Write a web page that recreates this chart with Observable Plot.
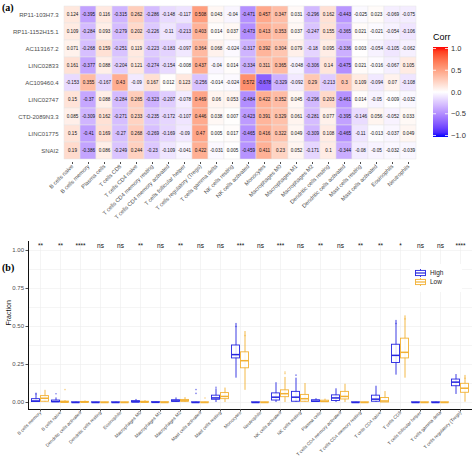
<!DOCTYPE html>
<html><head><meta charset="utf-8">
<script src="https://cdn.jsdelivr.net/npm/d3@7"></script>
<script src="https://cdn.jsdelivr.net/npm/@observablehq/plot@0.6"></script>
<style>
body{margin:0;background:#fff;font-family:"Liberation Sans",Arial,sans-serif;}
#wrap{position:relative;width:474px;height:460px;overflow:hidden;background:#fff;}
.abs{position:absolute;}
.plab{position:absolute;font-family:"Liberation Serif","DejaVu Serif",serif;font-weight:bold;font-size:10px;color:#000;}
</style></head><body><div id="wrap"></div>
<script>
// ---------- Panel (a) data ----------
const genes = ["RP11-103H7.3","RP11-1152H15.1","AC113167.2","LINC02833","AC109460.4","LINC02747","CTD-2089N3.3","LINC01775","SNAI2"];
const heatCells = ["B cells naive","B cells memory","Plasma cells","T cells CD8","T cells CD4 naive","T cells CD4 memory resting","T cells CD4 memory activated","T cells follicular helper","T cells regulatory (Tregs)","T cells gamma delta","NK cells resting","NK cells activated","Monocytes","Macrophages M0","Macrophages M1","Macrophages M2","Dendritic cells resting","Dendritic cells activated","Mast cells resting","Mast cells activated","Eosinophils","Neutrophils"];
const corr_RP11_103H7_3   = [0.124,-0.395,0.116,-0.315,0.262,-0.286,-0.148,-0.117,0.508,0.043,-0.04,-0.471,0.457,0.347,0.031,-0.296,0.162,-0.443,-0.025,0.023,-0.069,-0.075];
const corr_RP11_1152H15_1 = [0.109,-0.284,0.093,-0.279,0.202,-0.226,-0.11,-0.213,0.403,0.014,0.037,-0.473,0.413,0.353,0.037,-0.247,0.155,-0.365,0.021,-0.021,-0.054,-0.106];
const corr_AC113167_2     = [0.071,-0.268,0.159,-0.251,0.119,-0.223,-0.183,-0.097,0.364,0.068,-0.024,-0.317,0.392,0.304,0.079,-0.18,0.095,-0.336,0.003,-0.054,-0.105,-0.062];
const corr_LINC02833      = [0.161,-0.377,0.088,-0.204,0.121,-0.274,-0.154,-0.008,0.437,-0.04,0.014,-0.334,0.311,0.365,-0.048,-0.306,0.14,-0.475,0.021,-0.016,-0.067,0.105];
const corr_AC109460_4     = [-0.153,0.355,-0.167,0.43,-0.09,0.167,0.012,0.123,-0.256,-0.014,-0.024,0.572,-0.678,-0.329,-0.092,0.29,-0.213,0.3,0.109,-0.094,0.07,-0.108];
const corr_LINC02747      = [0.15,-0.37,0.088,-0.284,0.265,-0.323,-0.207,-0.078,0.469,0.06,0.053,-0.484,0.422,0.352,0.045,-0.296,0.203,-0.461,0.014,-0.05,-0.009,-0.032];
const corr_CTD_2089N3_3   = [0.085,-0.309,0.162,-0.271,0.233,-0.235,-0.172,-0.107,0.446,0.038,0.007,-0.423,0.391,0.329,0.061,-0.281,0.077,-0.395,-0.146,0.056,-0.052,0.033];
const corr_LINC01775      = [0.15,-0.41,0.169,-0.27,0.268,-0.269,-0.169,-0.09,0.47,0.005,0.017,-0.465,0.416,0.322,0.049,-0.309,0.108,-0.465,-0.11,-0.013,-0.037,0.049];
const corr_SNAI2          = [0.19,-0.386,0.086,-0.249,0.244,-0.23,-0.109,-0.041,0.422,-0.031,0.005,-0.459,0.411,0.23,0.052,-0.171,0.1,-0.344,-0.08,-0.05,-0.032,-0.039];
const corrLegendTicks = [1.0,0.5,0.0,-0.5,-1.0];

// ---------- Panel (b) data ----------
const boxCells = ["B cells memory","B cells naive","Dendritic cells activated","Dendritic cells resting","Eosinophils","Macrophages M0","Macrophages M1","Macrophages M2","Mast cells activated","Mast cells resting","Monocytes","Neutrophils","NK cells activated","NK cells resting","Plasma cells","T cells CD4 memory activated","T cells CD4 memory resting","T cells CD4 naive","T cells CD8","T cells follicular helper","T cells gamma delta","T cells regulatory (Tregs)"];
const sigLabels = ["**","**","****","ns","ns","**","ns","**","ns","ns","***","ns","***","ns","**","ns","**","**","*","ns","ns","****"];
const groups = ["High","Low"];
const highLo  = [0,0,0,0,0,0,0,0,0,0,0.16,0,0,0,0,0,0,0,0.18,0,0,0.053];
const highQ1  = [0.003,0.002,0,0,0,0.001,0,0.005,0,0.018,0.29,0,0.013,0.005,0.004,0.01,0,0.005,0.26,0,0,0.107];
const highMed = [0.01,0.006,0,0,0,0.004,0.001,0.01,0,0.03,0.315,0,0.035,0.035,0.009,0.03,0,0.022,0.31,0,0,0.134];
const highQ3  = [0.022,0.013,0.001,0.001,0.001,0.009,0.002,0.015,0.001,0.045,0.375,0.001,0.06,0.07,0.015,0.047,0.001,0.045,0.38,0.001,0.001,0.151];
const highHi  = [0.05,0.03,0.003,0.002,0.003,0.02,0.004,0.03,0.003,0.09,0.52,0.002,0.13,0.16,0.025,0.09,0.002,0.107,0.54,0.002,0.003,0.184];
const lowLo   = [0,0,0,0,0,0,0,0,0,0,0.08,0,0,0,0,0,0,0,0.16,0,0,0.002];
const lowQ1   = [0.005,0,0,0,0,0,0,0.006,0,0.022,0.225,0,0.035,0.005,0.003,0.02,0,0,0.29,0,0,0.064];
const lowMed  = [0.028,0.002,0.002,0,0,0.002,0,0.011,0,0.04,0.275,0,0.058,0.025,0.007,0.04,0,0.01,0.33,0,0,0.094];
const lowQ3   = [0.042,0.006,0.004,0.001,0.001,0.005,0.002,0.017,0.001,0.062,0.33,0.001,0.08,0.05,0.012,0.07,0.001,0.03,0.42,0.001,0.001,0.123];
const lowHi   = [0.08,0.012,0.01,0.002,0.002,0.012,0.004,0.032,0.003,0.095,0.467,0.002,0.165,0.125,0.022,0.12,0.002,0.072,0.57,0.002,0.002,0.178];
// a few visible outlying sample points (cell index, group, fraction)
const outCell  = [0,0,1,1,8,8,8,12,12,13,9,10,10,18,18,21];
const outGroup = ["High","High","High","Low","High","High","Low","Low","Low","High","High","High","Low","High","Low","Low"];
const outValue = [0.06,0.055,0.058,0.085,0.085,0.06,0.03,0.2,0.19,0.18,0.1,0.5,0.44,0.52,0.55,0.16];

const BLUE = "#2626E0", GOLD = "#F2B134";
const FONT = "Liberation Sans, Arial, sans-serif";
const wrap = document.getElementById("wrap");

// ---------- Panel (a): heatmap ----------
const geneRows = [corr_RP11_103H7_3,corr_RP11_1152H15_1,corr_AC113167_2,corr_LINC02833,corr_AC109460_4,corr_LINC02747,corr_CTD_2089N3_3,corr_LINC01775,corr_SNAI2];
const heat = [];
geneRows.forEach((vals, r) => vals.forEach((v, c) => heat.push({gene: genes[r], cell: heatCells[c], v})));
const colorRange = {type: "linear", domain: [-1, 0, 1], range: ["blue", "white", "red"], interpolate: "lab"};

const plotA = Plot.plot({
  width: 474, height: 230,
  marginLeft: 62, marginRight: 56, marginTop: 2, marginBottom: 68,
  style: {fontFamily: FONT, background: "transparent"},
  x: {domain: heatCells, padding: 0, label: null},
  y: {domain: genes, padding: 0, label: null},
  color: colorRange,
  marks: [
    Plot.cell(heat, {x: "cell", y: "gene", fill: "v", stroke: "#e6e6e6", strokeWidth: 0.5}),
    Plot.text(heat, {x: "cell", y: "gene", text: d => String(d.v), fontSize: 4.6, fill: "#111"}),
    Plot.axisX({tickRotate: -45, fontSize: 5.6, tickSize: 2, tickPadding: 1, color: "#4d4d4d", label: null}),
    Plot.axisY({fontSize: 6, tickSize: 0, tickPadding: 4, color: "#4d4d4d", label: null})
  ]
});
plotA.classList.add("abs");
plotA.style.left = "0px"; plotA.style.top = "0px";
wrap.appendChild(plotA);

// Corr colour bar legend
(function(){
  const W = 49, H = 125, x0 = 8, y0 = 19, bw = 15, bh = 90;
  const svg = d3.create("svg").attr("width", W).attr("height", H)
    .attr("class", "abs").style("left", "425px").style("top", "28px")
    .style("font-family", FONT);
  const col = d3.scaleLinear().domain([-1, 0, 1]).range(["blue", "white", "red"]).interpolate(d3.interpolateLab);
  const ys = d3.scaleLinear().domain([-1, 1]).range([y0 + bh - 1.5, y0 + 1.5]);
  const grad = svg.append("defs").append("linearGradient").attr("id", "cg")
    .attr("x1", 0).attr("y1", 1).attr("x2", 0).attr("y2", 0);
  d3.range(0, 1.0001, 0.05).forEach(t => grad.append("stop").attr("offset", t).attr("stop-color", col(-1 + 2 * t)));
  svg.append("text").attr("x", x0).attr("y", 12).attr("font-size", 9).attr("fill", "#000").text("Corr");
  svg.append("rect").attr("x", x0).attr("y", y0).attr("width", bw).attr("height", bh).attr("fill", "url(#cg)");
  corrLegendTicks.forEach(t => {
    const y = ys(t);
    svg.append("line").attr("x1", x0).attr("x2", x0 + 3).attr("y1", y).attr("y2", y).attr("stroke", "white").attr("stroke-width", 0.8);
    svg.append("line").attr("x1", x0 + bw - 3).attr("x2", x0 + bw).attr("y1", y).attr("y2", y).attr("stroke", "white").attr("stroke-width", 0.8);
    svg.append("text").attr("x", x0 + bw + 3).attr("y", y).attr("dy", "0.35em").attr("font-size", 7.5).attr("fill", "#333")
      .text(d3.format(".1f")(t).replace("-", "\u2212"));
  });
  wrap.appendChild(svg.node());
})();

// ---------- Panel (b): boxplots ----------
const boxes = [];
boxCells.forEach((c, i) => {
  boxes.push({i, g: "High", off: -0.225, lo: highLo[i], q1: highQ1[i], med: highMed[i], q3: highQ3[i], hi: highHi[i]});
  boxes.push({i, g: "Low", off: 0.225, lo: lowLo[i], q1: lowQ1[i], med: lowMed[i], q3: lowQ3[i], hi: lowHi[i]});
});
const outs = outCell.map((c, k) => ({i: c, g: outGroup[k], v: outValue[k], off: outGroup[k] === "High" ? -0.225 : 0.225}));
const hw = 0.2;
const YMIN = -0.046, YMAX = 1.059;

const plotB = Plot.plot({
  width: 474, height: 230,
  marginLeft: 28, marginRight: 2, marginTop: 11, marginBottom: 51,
  style: {fontFamily: FONT, background: "transparent"},
  x: {type: "linear", domain: [-0.6, 21.6], label: null},
  y: {domain: [YMIN, YMAX], label: null},
  color: {domain: groups, range: [BLUE, GOLD]},
  marks: [
    Plot.gridY(d3.range(0, 1.001, 0.125), {stroke: "#ececec", strokeOpacity: 1, strokeWidth: 0.6}),
    Plot.gridX(d3.range(boxCells.length), {stroke: "#ececec", strokeOpacity: 1, strokeWidth: 0.6}),
    Plot.ruleX(boxes, {x: d => d.i + d.off, y1: "lo", y2: "hi", stroke: "g", strokeWidth: 0.9}),
    Plot.rect(boxes, {x1: d => d.i + d.off - hw, x2: d => d.i + d.off + hw, y1: "q1", y2: "q3", fill: "white", fillOpacity: 0.85, stroke: "g", strokeWidth: 0.9}),
    Plot.ruleY(boxes, {x1: d => d.i + d.off - hw, x2: d => d.i + d.off + hw, y: "med", stroke: "g", strokeWidth: 1.5}),
    Plot.dot(outs, {x: d => d.i + d.off, y: "v", r: 0.8, fill: "g", fillOpacity: 0.6, stroke: null}),
    Plot.text(sigLabels, {x: (d, i) => i, y: () => 1.028, text: d => d, fontSize: 6.5, fill: "#111"}),
    Plot.ruleX([-0.6], {y1: YMIN, y2: YMAX, stroke: "#111", strokeWidth: 1}),
    Plot.ruleY([YMIN], {x1: -0.6, x2: 21.6, stroke: "#111", strokeWidth: 1}),
    Plot.axisY({ticks: [0, 0.25, 0.5, 0.75, 1], tickFormat: d3.format(".2f"), fontSize: 6, tickSize: 2.5, tickPadding: 2, color: "#4d4d4d", label: null}),
    Plot.axisX({ticks: d3.range(boxCells.length), tickFormat: i => boxCells[i], tickRotate: -45, fontSize: 4.6, tickSize: 2.5, tickPadding: 0, color: "#4d4d4d", label: null}),
    Plot.text(["Fraction"], {frameAnchor: "left", dx: -20, rotate: -90, fontSize: 7, fill: "#111"})
  ]
});
plotB.classList.add("abs");
plotB.style.left = "0px"; plotB.style.top = "230px";
wrap.appendChild(plotB);

// High / Low legend (inside panel b)
(function(){
  const svg = d3.create("svg").attr("width", 52).attr("height", 28)
    .attr("class", "abs").style("left", "410px").style("top", "264px").style("font-family", FONT);
  svg.append("rect").attr("x", 0).attr("y", 0).attr("width", 52).attr("height", 28).attr("fill", "white");
  groups.forEach((g, k) => {
    const c = k === 0 ? BLUE : GOLD, cy = 9 + k * 9, cx = 10.5;
    svg.append("line").attr("x1", cx).attr("x2", cx).attr("y1", cy - 4).attr("y2", cy + 4).attr("stroke", c).attr("stroke-width", 0.9);
    svg.append("rect").attr("x", cx - 5).attr("y", cy - 2.6).attr("width", 10).attr("height", 5.2).attr("fill", "white").attr("stroke", c).attr("stroke-width", 0.9);
    svg.append("line").attr("x1", cx - 5).attr("x2", cx + 5).attr("y1", cy).attr("y2", cy).attr("stroke", c).attr("stroke-width", 1.2);
    svg.append("text").attr("x", 20).attr("y", cy).attr("dy", "0.35em").attr("font-size", 6.5).attr("fill", "#222").text(g);
  });
  wrap.appendChild(svg.node());
})();

// panel tags
const ta = document.createElement("div"); ta.className = "plab"; ta.style.left = "2px"; ta.style.top = "2px"; ta.textContent = "(a)"; wrap.appendChild(ta);
const tb = document.createElement("div"); tb.className = "plab"; tb.style.left = "2px"; tb.style.top = "262px"; tb.textContent = "(b)"; wrap.appendChild(tb);
</script>
</body></html>
